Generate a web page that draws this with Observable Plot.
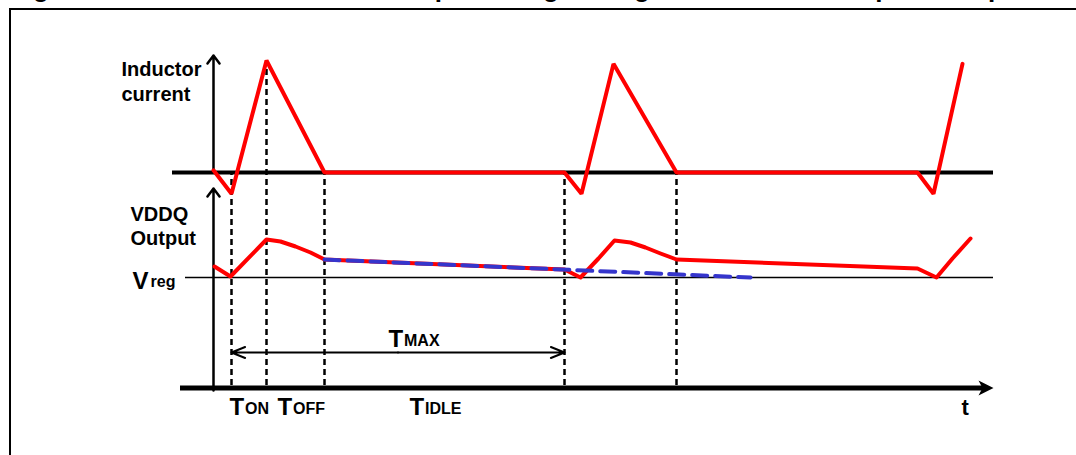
<!DOCTYPE html>
<html><head><meta charset="utf-8">
<script src="https://cdn.jsdelivr.net/npm/d3@7"></script>
<script src="https://cdn.jsdelivr.net/npm/@observablehq/plot@0.6"></script>
<style>
html,body{margin:0;padding:0;background:#fff;overflow:hidden;width:1076px;height:455px;position:relative}
#title{position:absolute;left:10px;top:-27px;font:bold 26px "Liberation Sans",Arial,sans-serif;white-space:nowrap;color:#000}
#frame{position:absolute;left:9px;top:8px;width:2000px;height:1000px;border-left:2.5px solid #000;border-top:2.5px solid #000}
#chart{position:absolute;left:0;top:0}
</style></head><body>
<div id="title">Figure 6.&nbsp;&nbsp;Inductor current and output voltage using the TMAX limit in pulse-skip mode</div>
<div id="frame"></div>
<div id="chart"></div>
<script>
// ---- data (time in arbitrary units, origin at the vertical axes) ----
const time = [0, 1.8, 5.3, 11.1, 35.1, 36.8, 40.0, 46.3, 70.4, 72.0, 74.9];
const inductorCurrent = [0.02, -0.19, 1.0, 0, 0, -0.19, 0.97, 0, 0, -0.19, 0.97];
const vddqTime = [0.1, 1.7, 5.3, 6.7, 8.2, 9.7, 11.1, 35.1, 36.7, 38.5, 40.1, 41.7, 43.2, 44.7, 46.3, 70.4, 72.3, 73.9, 75.7];
const vddqRipple = [11, 1, 38, 36, 31, 25, 18, 8, 0, 19, 37, 35, 30, 24, 18, 9, 0, 19, 39];
const skipTime = [11.1, 53.7];
const skipRipple = [18, 0];
const eventTimes = [1.8, 5.3, 11.1, 35.1, 46.3];
const phaseNames = ["ON", "OFF", "IDLE"];
const axisTitles = ["Inductor\ncurrent", "VDDQ\nOutput"];

// ---- layout of the two traces on one vertical scale ----
const I_ZERO = 214, I_GAIN = 112, V_REG = 109, T_AXIS = -1.5, T_END = 78;
const FONT = "Liberation Sans, Arial, Helvetica, sans-serif";

const currentData = time.map((t, i) => ({t, y: I_ZERO + inductorCurrent[i] * I_GAIN}));
const vddqData = vddqTime.map((t, i) => ({t, y: V_REG + vddqRipple[i]}));
const skipData = skipTime.map((t, i) => ({t, y: V_REG + skipRipple[i]}));
const verticals = eventTimes.map(t => {
  const k = time.indexOf(t);
  const top = k >= 0 ? Math.max(I_ZERO, I_ZERO + inductorCurrent[k] * I_GAIN) : I_ZERO;
  return {t, y1: T_AXIS + 2.5, y2: top};
});
const tmaxMid = (eventTimes[0] + eventTimes[3]) / 2;
const tmaxArrows = [
  {x1: tmaxMid, x2: eventTimes[0], y: 34},
  {x1: tmaxMid, x2: eventTimes[3], y: 34}
];
const phaseX = [eventTimes[0] - 0.2, eventTimes[1] + 1.1, (eventTimes[2] + eventTimes[3]) / 2 - 3.5];
const phaseLabels = phaseNames.map((n, i) => ({t: phaseX[i], n}));

const arrowSymbol = {draw(ctx) {
  ctx.moveTo(0, 0); ctx.lineTo(-15, -7.5); ctx.lineTo(-11, 0); ctx.lineTo(-15, 7.5); ctx.closePath();
}};

const txt = (data, o) => Plot.text(data, {fontFamily: FONT, fontWeight: "bold", fill: "black", lineAnchor: "top", textAnchor: "start", ...o});

const chart = Plot.plot({
  width: 1076, height: 455, margin: 0,
  x: {domain: [-21.3, 86.3], range: [0, 1076], axis: null},
  y: {domain: [-69, 386], range: [455, 0], axis: null},
  style: {background: "transparent", overflow: "visible"},
  marks: [
    Plot.ruleY([V_REG], {x1: -2.8, x2: T_END, stroke: "black", strokeWidth: 1.5}),
    Plot.ruleY([I_ZERO], {x1: -4.1, x2: T_END, stroke: "black", strokeWidth: 4}),
    Plot.ruleY([T_AXIS], {x1: -3.3, x2: T_END - 1, stroke: "black", strokeWidth: 5}),
    Plot.dot([{t: T_END, y: T_AXIS}], {x: "t", y: "y", symbol: arrowSymbol, fill: "black", stroke: null}),
    Plot.arrow([{y1: I_ZERO, y2: 331}], {x1: () => 0, x2: () => 0, y1: "y1", y2: "y2", stroke: "black", strokeWidth: 2.5, headLength: 6, headAngle: 74}),
    Plot.arrow([{y1: -4, y2: 198}], {x1: () => 0, x2: () => 0, y1: "y1", y2: "y2", stroke: "black", strokeWidth: 2.5, headLength: 6, headAngle: 74}),
    Plot.ruleX(verticals, {x: "t", y1: "y1", y2: "y2", stroke: "black", strokeWidth: 2.5, strokeDasharray: "6,4"}),
    Plot.line(currentData, {x: "t", y: "y", stroke: "#ff0000", strokeWidth: 4, strokeLinejoin: "miter"}),
    Plot.line(vddqData, {x: "t", y: "y", stroke: "#ff0000", strokeWidth: 4, strokeLinejoin: "round"}),
    Plot.line(skipData, {x: "t", y: "y", stroke: "#3535cc", strokeWidth: 4, strokeDasharray: "15,8"}),
    Plot.arrow(tmaxArrows, {x1: "x1", x2: "x2", y1: "y", y2: "y", stroke: "black", strokeWidth: 2, headLength: 11, headAngle: 44}),
    txt([axisTitles[0]], {x: () => -9.2, y: () => 328.2, text: d => d, fontSize: 20, lineHeight: 1.25}),
    txt([axisTitles[1]], {x: () => -8.3, y: () => 182.2, text: d => d, fontSize: 20, lineHeight: 1.2}),
    txt(["V"], {x: () => -8.1, y: () => 115, text: d => d, fontSize: 24}),
    txt(["reg"], {x: () => -6.3, y: () => 110.4, text: d => d, fontSize: 16}),
    txt(["T"], {x: () => tmaxMid - 0.95, y: () => 57, text: d => d, fontSize: 24}),
    txt(["MAX"], {x: () => tmaxMid - 0.95, y: () => 51.4, dx: 15.5, text: d => d, fontSize: 16}),
    txt(phaseLabels, {x: "t", y: () => -11, text: () => "T", fontSize: 24}),
    txt(phaseLabels, {x: "t", y: () => -16.6, dx: 15.5, text: "n", fontSize: 16}),
    txt(["t"], {x: () => 74.8, y: () => -12.4, text: d => d, fontSize: 22})
  ]
});
document.getElementById("chart").append(chart);
</script></body></html>
